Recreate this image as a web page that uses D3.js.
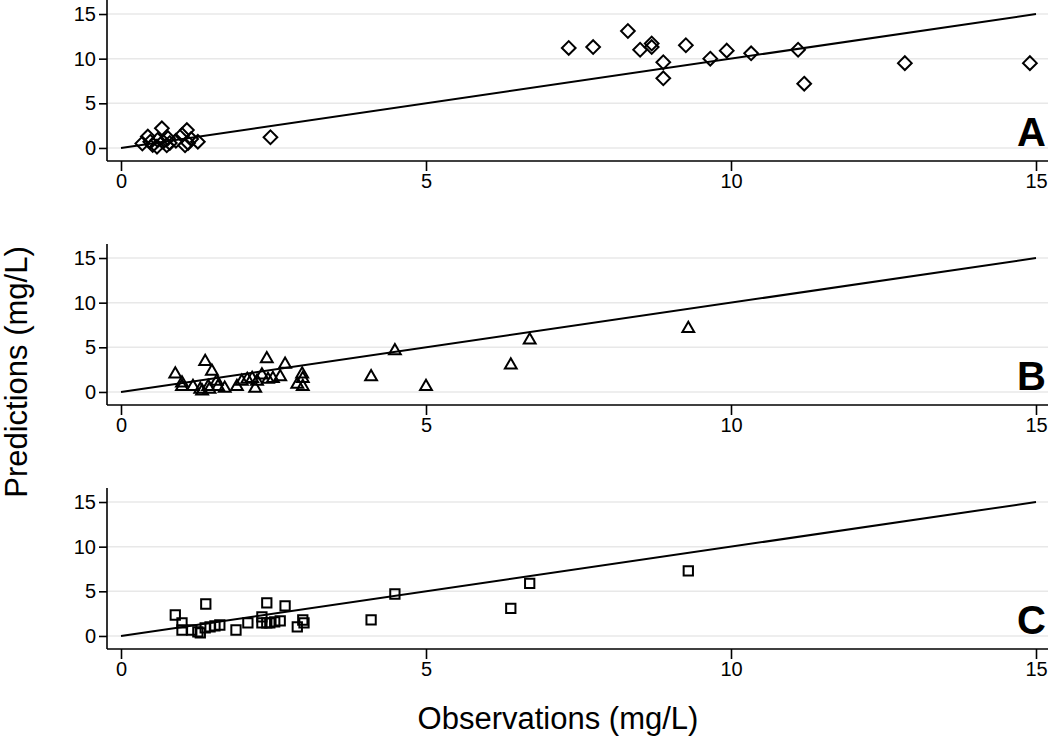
<!DOCTYPE html>
<html>
<head>
<meta charset="utf-8">
<script src="https://cdn.jsdelivr.net/npm/d3@7"></script>
<style>
body { margin: 0; background: #fff; }
svg { font-family: "Liberation Sans", Arial, sans-serif; }
</style>
</head>
<body>
<svg id="chart" width="1050" height="744"></svg>
<script>
// panel A (diamonds)
var obs_a  = [0.35, 0.44, 0.48, 0.52, 0.59, 0.6, 0.67, 0.69, 0.75, 0.77, 0.8, 0.9, 1.0, 1.05, 1.08, 1.1, 1.15, 1.26, 2.45,
              7.34, 7.74, 8.31, 8.51, 8.7, 8.7, 8.89, 8.89, 9.26, 9.66, 9.93, 10.33, 11.1, 11.2, 12.85, 14.9];
var pred_a = [0.5, 1.27, 0.7, 0.34, 0.15, 0.9, 2.2, 0.7, 0.3, 1.1, 0.56, 0.8, 1.46, 0.3, 2.0, 0.56, 1.0, 0.7, 1.2,
              11.2, 11.3, 13.1, 11.0, 11.7, 11.3, 9.6, 7.8, 11.5, 10.0, 10.9, 10.6, 11.0, 7.2, 9.5, 9.5];

// panel B (triangles)
var obs_b  = [0.89, 1.0, 1.0, 1.18, 1.3, 1.33, 1.38, 1.43, 1.45, 1.49, 1.57, 1.59, 1.7, 1.9, 1.98, 2.07, 2.15, 2.2, 2.23,
              2.31, 2.39, 2.41, 2.49, 2.61, 2.69, 2.89, 2.97, 2.98, 2.98, 4.1, 4.49, 5.0, 6.39, 6.7, 9.3];
var pred_b = [2.0, 1.0, 0.6, 0.6, 0.3, 0.1, 3.4, 0.6, 0.3, 2.3, 1.2, 0.6, 0.4, 0.6, 1.2, 1.4, 1.5, 0.4, 1.2,
              1.9, 3.7, 1.4, 1.5, 1.7, 3.1, 0.85, 2.0, 1.5, 0.6, 1.7, 4.6, 0.6, 3.0, 5.8, 7.1];

// panel C (squares)
var obs_c  = [0.89, 1.0, 1.0, 1.16, 1.26, 1.3, 1.39, 1.38, 1.46, 1.54, 1.62, 1.885, 2.08, 2.31, 2.39, 2.31, 2.39, 2.44, 2.52,
              2.61, 2.69, 2.89, 2.98, 3.0, 4.1, 4.49, 6.39, 6.7, 9.3];
var pred_c = [2.35, 1.46, 0.67, 0.67, 0.45, 0.34, 3.58, 0.9, 1.01, 1.12, 1.23, 0.67, 1.46, 2.13, 3.7, 1.46, 1.46, 1.46, 1.57,
              1.68, 3.36, 1.01, 1.79, 1.46, 1.8, 4.7, 3.1, 5.9, 7.3];

var x_ticks = [0, 5, 10, 15];
var y_ticks = [0, 5, 10, 15];
var panel_labels = ['A', 'B', 'C'];

draw_chart();

function draw_chart(){
    var svg = d3.select('#chart');
    var padding = {left: 107, right: 1048};
    var panel_height = 161;
    var panel_step = 244;

    var x_scale = d3.scaleLinear()
        .domain([0, 15])
        .range([121, 1036]);

    var panels = [
        {obs: obs_a, pred: pred_a, shape: d3.symbolDiamond2, size: 120},
        {obs: obs_b, pred: pred_b, shape: d3.symbolTriangle2, size: 100},
        {obs: obs_c, pred: pred_c, shape: d3.symbolSquare2, size: 110}
    ];

    panels.forEach(function(p, i){
        var top = i * panel_step;
        var g = svg.append('g').attr('transform', 'translate(0,' + top + ')');

        var y_scale = d3.scaleLinear()
            .domain([-1.46, 16.57])
            .range([panel_height, 0]);

        // grid
        g.selectAll('.grid').data(y_ticks).enter().append('line')
            .attr('x1', padding.left).attr('x2', padding.right)
            .attr('y1', function(d){ return y_scale(d); })
            .attr('y2', function(d){ return y_scale(d); })
            .attr('stroke', '#e8e8e8').attr('stroke-width', 1.5);

        // y axis
        var y_axis = g.append('g')
            .attr('transform', 'translate(' + padding.left + ',0)')
            .call(d3.axisLeft(y_scale).tickValues(y_ticks).tickSize(8).tickPadding(3));
        y_axis.select('.domain').attr('d', 'M0,0V' + panel_height).attr('stroke-width', 1.6);

        // x axis
        var x_axis = g.append('g')
            .attr('transform', 'translate(0,' + panel_height + ')')
            .call(d3.axisBottom(x_scale).tickValues(x_ticks).tickSize(10).tickPadding(3));
        x_axis.select('.domain').attr('d', 'M' + padding.left + ',0H' + padding.right).attr('stroke-width', 1.6);

        [y_axis, x_axis].forEach(function(ax){
            ax.selectAll('text').attr('font-size', 20).attr('fill', '#000')
                .attr('font-family', '"Liberation Sans", Arial, sans-serif');
            ax.selectAll('.tick line').attr('stroke-width', 1.6);
        });

        // identity line
        g.append('line')
            .attr('x1', x_scale(0)).attr('y1', y_scale(0))
            .attr('x2', x_scale(15)).attr('y2', y_scale(15))
            .attr('stroke', '#000').attr('stroke-width', 2);

        // points
        var sym = d3.symbol().type(p.shape).size(p.size);
        g.selectAll('.pt').data(p.obs).enter().append('path')
            .attr('d', sym)
            .attr('transform', function(d, j){
                return 'translate(' + x_scale(d) + ',' + y_scale(p.pred[j]) + ')';
            })
            .attr('fill', 'none').attr('stroke', '#000').attr('stroke-width', 2);

        // panel letter
        g.append('text')
            .attr('x', 1046).attr('y', 146)
            .attr('text-anchor', 'end')
            .attr('font-size', 40).attr('font-weight', 'bold')
            .text(panel_labels[i]);
    });

    svg.append('text')
        .attr('transform', 'translate(27,372) rotate(-90)')
        .attr('text-anchor', 'middle')
        .attr('font-size', 31)
        .text('Predictions (mg/L)');

    svg.append('text')
        .attr('x', 558).attr('y', 729)
        .attr('text-anchor', 'middle')
        .attr('font-size', 31)
        .text('Observations (mg/L)');
}
</script>
</body>
</html>
